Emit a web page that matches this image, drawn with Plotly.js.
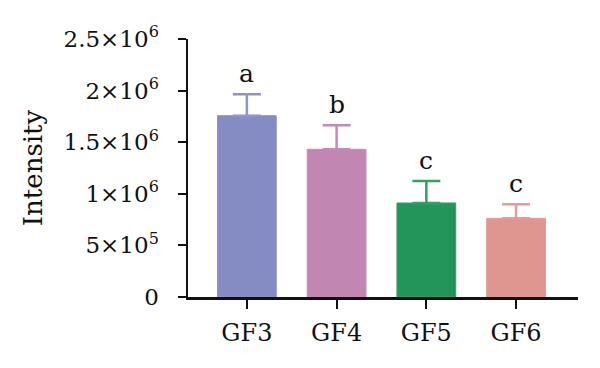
<!DOCTYPE html>
<html>
<head>
<meta charset="utf-8">
<script src="https://cdn.plot.ly/plotly-3.0.1.min.js"></script>
<style>html,body{margin:0;padding:0;background:#fff;}#chart{width:600px;height:368px;}</style>
</head>
<body>
<div id="chart"></div>
<script>
const categories = ["GF3", "GF4", "GF5", "GF6"];
const means = [1757000, 1431000, 911000, 762000];
const errors = [207000, 233000, 213000, 136000];
const letters = ["a", "b", "c", "c"];
const barColors = ["#858cc4", "#c286b3", "#23955b", "#df9590"];
const errColors = ["#8d93cc", "#c48ab6", "#3a9d66", "#e39c98"];
const tickVals = [0, 500000, 1000000, 1500000, 2000000, 2500000];
const tickText = ["0", "5×10<sup>5</sup>", "1×10<sup>6</sup>", "1.5×10<sup>6</sup>", "2×10<sup>6</sup>", "2.5×10<sup>6</sup>"];

const FONT = "DejaVu Serif, serif";

const traces = categories.map((c, i) => ({
  type: "bar",
  x: [i],
  y: [means[i]],
  width: 0.655,
  marker: {color: barColors[i], line: {color: errColors[i], width: 1}},
  error_y: {type: "data", symmetric: false, array: [errors[i]], arrayminus: [0],
            color: errColors[i], thickness: 2.5, width: 14},
  hoverinfo: "skip",
  showlegend: false
}));

const annotations = categories.map((c, i) => ({
  x: i, y: means[i] + errors[i], xref: "x", yref: "y",
  text: letters[i], showarrow: false, yanchor: "bottom", yshift: 4,
  font: {family: FONT, size: 25, color: "#111"}
}));

const layout = {
  width: 600, height: 368,
  margin: {l: 188, r: 22, t: 39, b: 71, pad: 0},
  paper_bgcolor: "#fff", plot_bgcolor: "#fff",
  font: {family: FONT, color: "#111"},
  bargap: 0.345,
  xaxis: {
    range: [-0.656, 3.69],
    tickvals: [0, 1, 2, 3], ticktext: categories,
    showgrid: false, zeroline: false,
    showline: true, linecolor: "#111", linewidth: 2.5,
    ticks: "outside", ticklen: 9, tickwidth: 2, tickcolor: "#111",
    ticklabelstandoff: 4,
    tickfont: {family: FONT, size: 24, color: "#111"}
  },
  yaxis: {
    range: [0, 2500000],
    tickvals: tickVals, ticktext: tickText,
    showgrid: false, zeroline: false,
    showline: true, linecolor: "#111", linewidth: 2.5,
    ticks: "outside", ticklen: 8, tickwidth: 2, tickcolor: "#111",
    ticklabelstandoff: 14,
    tickfont: {family: FONT, size: 23, color: "#111"},
    title: {text: "Intensity", font: {family: FONT, size: 26, color: "#111"}, standoff: 14}
  },
  annotations: annotations
};

Plotly.newPlot("chart", traces, layout, {displayModeBar: false, staticPlot: true});
</script>
</body>
</html>
